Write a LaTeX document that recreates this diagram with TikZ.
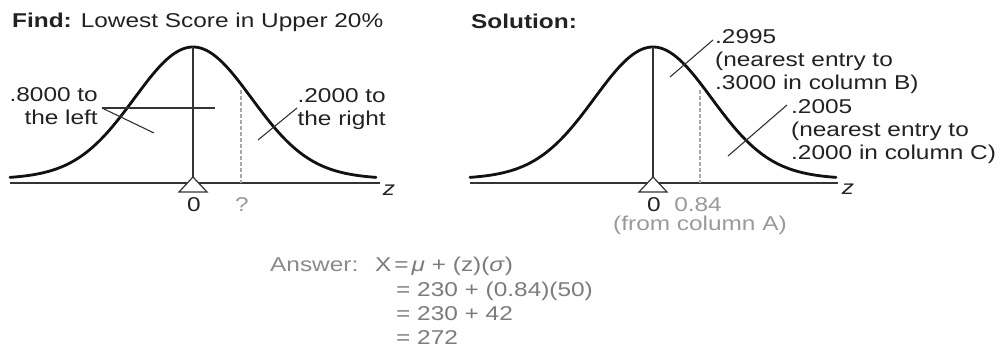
\documentclass[tikz,border=0pt]{standalone}
\usepackage{fontspec}
\setmainfont[FakeStretch=1.22]{Liberation Sans}
\definecolor{textdark}{HTML}{222222}
\definecolor{curvecol}{HTML}{111111}
\definecolor{axiscol}{HTML}{333333}
\definecolor{dashcol}{HTML}{A8A8A8}
\definecolor{lighttext}{HTML}{9A9A9A}
\definecolor{anscol}{HTML}{8A8A8A}
\definecolor{eqcol}{HTML}{7C7C7C}
\begin{document}
\begin{tikzpicture}[x=1pt,y=-1pt,
  txt/.style={inner sep=0pt, font=\fontsize{20}{23}\selectfont, text=textdark},
  ltxt/.style={txt, text=lighttext},
  anstxt/.style={txt, text=anscol},
  eqtxt/.style={txt, text=eqcol},
  bell/.style={line width=2.8pt, draw=curvecol, line cap=round},
  axisline/.style={line width=1.3pt, draw=axiscol},
  centerline/.style={line width=1.4pt, draw=axiscol},
  leader/.style={line width=1.1pt, draw=axiscol},
  guide/.style={line width=1.2pt, draw=dashcol, dash pattern=on 4pt off 2pt},
  pivot/.style={line width=1.2pt, draw=axiscol, fill=white}]
\useasboundingbox[fill=white] (0,0) rectangle (998,347);

% ---------- left graph ----------
\coordinate (La0) at (10,183);
\coordinate (La1) at (380,183);
\coordinate (Lpk) at (193,47);
\coordinate (Lap) at (193,177);
\coordinate (Ld0) at (241,90);
\coordinate (Ld1) at (241,183);
\draw[axisline] (La0) -- (La1);
\node[txt, font=\fontsize{20}{23}\selectfont\itshape] (Lz) at (389,190) {z};
\draw[guide] (Ld0) -- (Ld1);
\draw[bell] plot[domain=-183:183, samples=120, smooth]
  ({193+\x}, {180-126*exp(-0.5*(\x/58)^2)-7*exp(-0.5*(\x/110)^2)});
\draw[centerline] (Lpk) -- (Lap);
\draw[pivot] (Lap) -- (207,192) -- (179,192) -- cycle;

\coordinate (Lh0) at (102,108);
\coordinate (Lh1) at (215,108);
\coordinate (Ldg) at (154,133);
\coordinate (Lr0) at (297,108);
\coordinate (Lr1) at (258,140);
\draw[leader] (Lh0) -- (Lh1);
\draw[leader] (Lh0) -- (Ldg);
\draw[leader] (Lr0) -- (Lr1);

\node[txt, anchor=base west] (find) at (12,28) {\textbf{Find:} Lowest Score in Upper 20\%};
\node[txt, anchor=base east] (l8a) at (98,102) {.8000 to};
\node[txt, anchor=base east] (l8b) at (98,125) {the left};
\node[txt, anchor=base east] (l2a) at (386,103) {.2000 to};
\node[txt, anchor=base east] (l2b) at (386,126) {the right};
\node[txt, anchor=base] (l0) at (194,212) {0};
\node[ltxt, anchor=base] (lq) at (242,212) {?};

% ---------- right graph ----------
\coordinate (Ra0) at (470,183);
\coordinate (Ra1) at (838,183);
\coordinate (Rpk) at (653,47);
\coordinate (Rap) at (653,177);
\coordinate (Rd0) at (700,90);
\coordinate (Rd1) at (700,183);
\draw[axisline] (Ra0) -- (Ra1);
\node[txt, font=\fontsize{20}{23}\selectfont\itshape] (Rz) at (848,189) {z};
\draw[guide] (Rd0) -- (Rd1);
\draw[bell] plot[domain=-183:183, samples=120, smooth]
  ({653+\x}, {180-126*exp(-0.5*(\x/58)^2)-7*exp(-0.5*(\x/110)^2)});
\draw[centerline] (Rpk) -- (Rap);
\draw[pivot] (Rap) -- (667,192) -- (639,192) -- cycle;

\coordinate (Rb0) at (713,40);
\coordinate (Rb1) at (670,77);
\coordinate (Rc0) at (787,105);
\coordinate (Rc1) at (728,156);
\draw[leader] (Rb0) -- (Rb1);
\draw[leader] (Rc0) -- (Rc1);

\node[txt, anchor=base west] (sol) at (471,29) {\textbf{Solution:}};
\node[txt, anchor=base west] (b1) at (715,44) {.2995};
\node[txt, anchor=base west] (b2) at (715,67) {(nearest entry to};
\node[txt, anchor=base west] (b3) at (715,90) {.3000 in column B)};
\node[txt, anchor=base west] (c1) at (791,114) {.2005};
\node[txt, anchor=base west] (c2) at (791,137) {(nearest entry to};
\node[txt, anchor=base west] (c3) at (791,160) {.2000 in column C)};
\node[txt, anchor=base] (r0) at (654,212) {0};
\node[ltxt, anchor=base] (r084) at (698,212) {0.84};
\node[ltxt, anchor=base] (rfrom) at (700,231) {(from column A)};

% ---------- answer ----------
\node[anstxt, anchor=base west] (ans) at (270,272) {Answer:};
\node[eqtxt, anchor=base west] (e1) at (375,272) {X\hspace{3pt}=\hspace{3pt}\textit{μ} + (z)(\textit{σ})};
\node[eqtxt, anchor=base west] (e2) at (396,296) {= 230 + (0.84)(50)};
\node[eqtxt, anchor=base west] (e3) at (396,320) {= 230 + 42};
\node[eqtxt, anchor=base west] (e4) at (396,344) {= 272};
\end{tikzpicture}
\end{document}
